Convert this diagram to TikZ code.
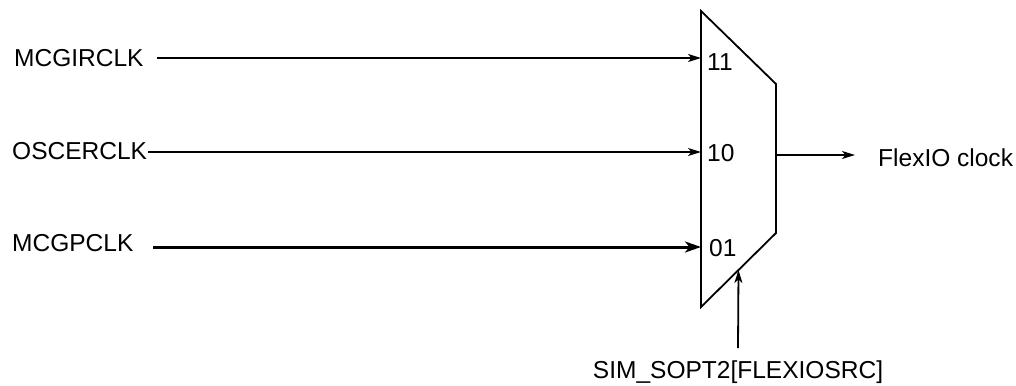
\documentclass[tikz,border=0pt]{standalone}
\usepackage{fontspec}
\setmainfont{Liberation Sans}
\usetikzlibrary{arrows.meta,calc}
\begin{document}
\begin{tikzpicture}[x=1bp,y=-1bp,
  lbl/.style={inner sep=0pt, font=\fontsize{24.6}{29}\selectfont},
  muxline/.style={line width=1.8bp, line join=miter},
  wire/.style={line width=1.8bp, -{Stealth[length=13bp,width=8bp,inset=3.5bp]}},
  wirebold/.style={line width=3bp, -{Stealth[length=16bp,width=11bp,inset=4.5bp]}}]
\useasboundingbox (0,0) rectangle (1016,385);
% multiplexer
\draw[muxline] (701,11) coordinate (mA) -- (776,84) coordinate (mB)
  -- (776,233) coordinate (mC) -- (701,307) coordinate (mD) -- cycle;
\coordinate (mS) at ($(mC)!0.5!(mD)$);
% mux input labels
\node[lbl,anchor=west] (p11) at (707,62) {11};
\node[lbl,anchor=west] (p10) at (707,153) {10};
\node[lbl,anchor=west] (p01) at (709,248) {01};
% inputs
\node[lbl,anchor=west] (in1) at (14,58) {MCGIRCLK};
\node[lbl,anchor=west] (in2) at (12,151) {OSCERCLK};
\node[lbl,anchor=west] (in3) at (12,243) {MCGPCLK};
\coordinate (s1) at (157,58);  \coordinate (e1) at (701,58);
\coordinate (s2) at (148,152); \coordinate (e2) at (701,152);
\coordinate (s3) at (153,247); \coordinate (e3) at (701,247);
\draw[wire] (s1) -- (e1);
\draw[wire] (s2) -- (e2);
\draw[wirebold] (s3) -- (e3);
% output
\coordinate (o1) at (776,155);
\coordinate (o2) at (855,155);
\node[lbl,anchor=west] (out) at (878,158) {FlexIO clock};
\draw[wire] (o1) -- (o2);
% select
\node[lbl] (sel) at (738,372) {SIM\_SOPT2[FLEXIOSRC]};
\coordinate (sb) at (738,348);
\draw[wire] (sb) -- (mS);
\end{tikzpicture}
\end{document}
